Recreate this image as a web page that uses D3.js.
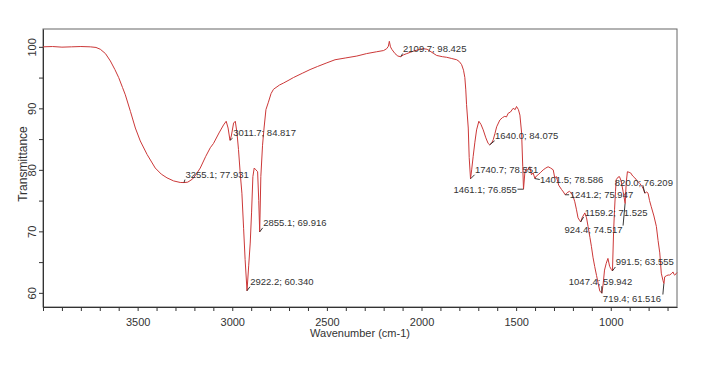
<!DOCTYPE html>
<html>
<head>
<meta charset="utf-8">
<script src="https://cdn.jsdelivr.net/npm/d3@7"></script>
<style>
  body { margin: 0; background: #fff; }
  text { font-family: 'Liberation Sans', Arial, sans-serif; }
</style>
</head>
<body>
<div id="chart"></div>
<script>
/* globals d3 */

// spectrum (cm-1, %T)
let wavenumber = [
  4000, 3950, 3900, 3850, 3800, 3750, 3720, 3697, 3670, 3644, 3620, 3600, 3580, 3565, 3538, 3512,
  3486, 3450, 3407, 3375, 3345, 3310, 3275, 3255, 3235, 3210, 3190, 3169, 3140, 3116, 3099, 3070,
  3046, 3032, 3022, 3012, 3005, 2993, 2984, 2975, 2967, 2958, 2949, 2940, 2932, 2922, 2913, 2905,
  2898, 2891, 2884, 2875, 2866, 2860, 2855, 2849, 2840, 2832, 2822, 2809, 2795, 2782, 2750, 2730,
  2700, 2677, 2630, 2589, 2550, 2500, 2457, 2400, 2342, 2290, 2237, 2200, 2184, 2175, 2170, 2164,
  2157, 2140, 2125, 2110, 2095, 2078, 2060, 2043, 2020, 1991, 1970, 1955, 1935, 1920, 1890, 1867,
  1840, 1814, 1800, 1788, 1778, 1771, 1766, 1762, 1753, 1748, 1741, 1735, 1727, 1718, 1709, 1697,
  1686, 1674, 1660, 1648, 1640, 1630, 1621, 1612, 1603, 1586, 1572, 1560, 1551, 1542, 1530, 1516,
  1505, 1498, 1488, 1480, 1471, 1465, 1461, 1454, 1447, 1440, 1428, 1419, 1410, 1401, 1393, 1384,
  1370, 1357, 1343, 1331, 1318, 1304, 1296, 1287, 1275, 1260, 1250, 1241, 1230, 1218, 1208, 1199,
  1190, 1181, 1173, 1165, 1159, 1150, 1137, 1128, 1120, 1110, 1102, 1094, 1085, 1075, 1067, 1058,
  1047, 1040, 1033, 1024, 1015, 1006, 997, 991, 985, 980, 975, 971, 962, 954, 945, 935,
  924, 918, 912, 903, 895, 884, 873, 860, 847, 835, 828, 820, 810, 803, 795, 786,
  772, 759, 750, 741, 733, 724, 719, 715, 705, 697, 689, 680, 671, 666, 662, 655, 650
]
let transmittance = [
  100.0, 100.05, 99.95, 100.0, 100.05, 100.0, 99.9, 99.6, 98.9, 97.7, 96.3, 95.0, 93.4, 92.2, 89.5, 86.8,
  84.7, 82.5, 80.3, 79.3, 78.7, 78.2, 77.95, 77.93, 78.0, 78.5, 79.3, 80.3, 82.2, 83.6, 84.3, 86.0,
  87.3, 87.9, 86.8, 84.8, 85.5, 87.6, 87.9, 86.0, 83.3, 79.5, 76.2, 70.5, 65.4, 60.34, 64.5, 68.1,
  73.0, 78.9, 80.3, 80.0, 79.7, 75.0, 69.92, 78.9, 84.0, 86.8, 89.8, 91.0, 92.4, 93.1, 93.8, 94.1,
  94.6, 95.0, 95.7, 96.3, 96.8, 97.4, 97.9, 98.2, 98.5, 98.9, 99.2, 99.4, 99.7, 100.1, 100.9, 100.0,
  99.6, 98.9, 98.5, 98.4, 98.7, 98.9, 99.1, 99.3, 99.5, 99.7, 99.6, 99.3, 98.9, 98.6, 98.4, 98.3,
  98.1, 97.9, 97.6, 97.1, 96.2, 95.0, 93.0, 90.6, 86.8, 82.0, 78.55, 80.0, 82.2, 84.5, 86.5, 87.9,
  87.4, 86.5, 85.2, 84.3, 84.08, 84.3, 84.9, 85.9, 87.0, 88.1, 88.5, 88.7, 88.6, 89.2, 89.4, 90.0,
  89.8, 90.3, 89.8, 88.9, 86.0, 80.5, 76.86, 79.5, 80.2, 80.0, 80.5, 79.2, 79.5, 78.59, 79.0, 79.2,
  79.6, 80.0, 80.3, 80.5, 80.3, 80.0, 78.7, 78.9, 77.5, 76.8, 76.4, 75.95, 76.3, 76.5, 76.2, 75.7,
  74.8, 73.5, 72.2, 71.8, 71.53, 72.3, 73.0, 72.2, 70.8, 69.0, 67.5, 65.8, 64.3, 62.8, 61.6, 60.3,
  59.94, 61.5, 63.7, 64.8, 65.6, 64.3, 63.8, 63.56, 70.0, 73.5, 76.5, 78.4, 78.8, 78.9, 78.2, 76.5,
  74.52, 78.0, 79.7, 79.6, 79.5, 79.0, 78.7, 78.2, 77.8, 77.3, 76.9, 76.21, 76.4, 76.2, 75.0, 74.0,
  72.5, 70.8, 68.5, 66.5, 63.2, 62.0, 61.52, 62.6, 62.8, 62.9, 62.9, 63.1, 63.4, 63.0, 62.9, 63.1, 63.3
]

// picked peaks
let peakWn = [3255.1, 3011.7, 2855.1, 2922.2, 2109.7, 1740.7, 1461.1, 1640.0, 1401.5, 1241.2, 820.0, 1159.2, 924.4, 991.5, 1047.4, 719.4]
let peakT = [77.931, 84.817, 69.916, 60.340, 98.425, 78.551, 76.855, 84.075, 78.586, 75.947, 76.209, 71.525, 74.517, 63.555, 59.942, 61.516]

let xTickValues = d3.range(700, 4001, 100)
let yTickValues = [60, 65, 70, 75, 80, 85, 90, 95, 100]

// where each peak label sits relative to its point: [dx, dy, anchor, leaderX, leaderY]
let labelPlace = [
  [1.5, -5, 'start', 1, -3],
  [3.2, -4, 'start', 2.5, -2],
  [3.5, -6, 'start', 3, -4],
  [3.2, -6, 'start', 3, -4],
  [2.3, -4.7, 'start', 2, -3],
  [4.3, -6, 'start', 4, -4],
  [-6.6, 4.2, 'end', -6, 0],
  [5.3, -5.5, 'start', 5, -4],
  [5.1, 4.3, 'start', 5, 1],
  [4.7, 3.5, 'start', 4, 0],
  [-30, -7.3, 'start', -2, -8],
  [4.2, -6.1, 'start', 3, -5],
  [-2.5, 29.8, 'end', -2, 22],
  [3.4, -6.1, 'start', 3, -4],
  [-33, -8.4, 'start', 0, -7],
  [-61, 18.8, 'start', -1, 11]
]

let width = 720
let height = 374
let plotLeft = 43
let plotRight = 677
let plotTop = 29
let plotBottom = 307

let x = d3.scaleLinear().domain([4000, 650]).range([plotLeft, plotRight])
let y = d3.scaleLinear().domain([57.7, 102.9]).range([plotBottom, plotTop])

let svg = d3.select('#chart').append('svg')
    .attr('width', width)
    .attr('height', height)

svg.append('rect')
    .attr('x', plotLeft)
    .attr('y', plotTop)
    .attr('width', plotRight - plotLeft)
    .attr('height', plotBottom - plotTop)
    .attr('fill', 'none')
    .attr('stroke', '#666')

let xAxis = svg.append('g')
    .attr('transform', 'translate(0,' + plotBottom + ')')
    .call(d3.axisBottom(x).tickValues(xTickValues).tickSize(4).tickSizeOuter(0)
      .tickFormat((d) => (d % 500 === 0 && d < 4000 ? d : '')))
xAxis.select('.domain').attr('stroke', '#333')
xAxis.selectAll('line').attr('stroke', '#333')
xAxis.selectAll('text')
    .attr('fill', '#333')
    .attr('font-size', 11)
    .attr('font-family', "'Liberation Sans', Arial, sans-serif")
    .attr('dy', '1.05em')

let yAxis = svg.append('g')
    .attr('transform', 'translate(' + plotLeft + ',0)')
    .call(d3.axisLeft(y).tickValues(yTickValues).tickSize(4).tickSizeOuter(0)
      .tickFormat((d) => (d % 10 === 0 ? d : '')))
yAxis.select('.domain').attr('stroke', '#333')
yAxis.selectAll('line').attr('stroke', '#333')
yAxis.selectAll('text')
    .attr('fill', '#333')
    .attr('font-size', 11)
    .attr('font-family', "'Liberation Sans', Arial, sans-serif")
    .attr('x', 0)
    .attr('dy', 0)
    .attr('text-anchor', 'middle')
    .attr('transform', 'translate(-7,0) rotate(-90)')

svg.append('text')
    .attr('x', (plotLeft + plotRight) / 2)
    .attr('y', 337)
    .attr('text-anchor', 'middle')
    .attr('font-size', 11)
    .attr('fill', '#333')
    .text('Wavenumber (cm-1)')

svg.append('text')
    .attr('transform', 'translate(27,164) rotate(-90)')
    .attr('text-anchor', 'middle')
    .attr('font-size', 12)
    .attr('fill', '#333')
    .text('Transmittance')

let spectrum = wavenumber.map((w, i) => [w, transmittance[i]])

svg.append('path')
    .datum(spectrum)
    .attr('fill', 'none')
    .attr('stroke', '#cc3838')
    .attr('stroke-width', 1)
    .attr('stroke-linejoin', 'round')
    .attr('d', d3.line().x((d) => x(d[0])).y((d) => y(d[1])))

let peaks = peakWn.map((w, i) => ({ w: w, t: peakT[i], place: labelPlace[i] }))

let marks = svg.append('g')
marks.selectAll('line')
    .data(peaks)
    .enter().append('line')
      .attr('x1', (d) => x(d.w))
      .attr('y1', (d) => y(d.t))
      .attr('x2', (d) => x(d.w) + d.place[3])
      .attr('y2', (d) => y(d.t) + d.place[4])
      .attr('stroke', '#222')
      .attr('stroke-width', 0.9)

marks.selectAll('text')
    .data(peaks)
    .enter().append('text')
      .attr('x', (d) => x(d.w) + d.place[0])
      .attr('y', (d) => y(d.t) + d.place[1])
      .attr('text-anchor', (d) => d.place[2])
      .attr('font-size', 9.5)
      .attr('fill', '#333')
      .text((d) => d.w.toFixed(1) + '; ' + d.t.toFixed(3))
</script>
</body>
</html>
